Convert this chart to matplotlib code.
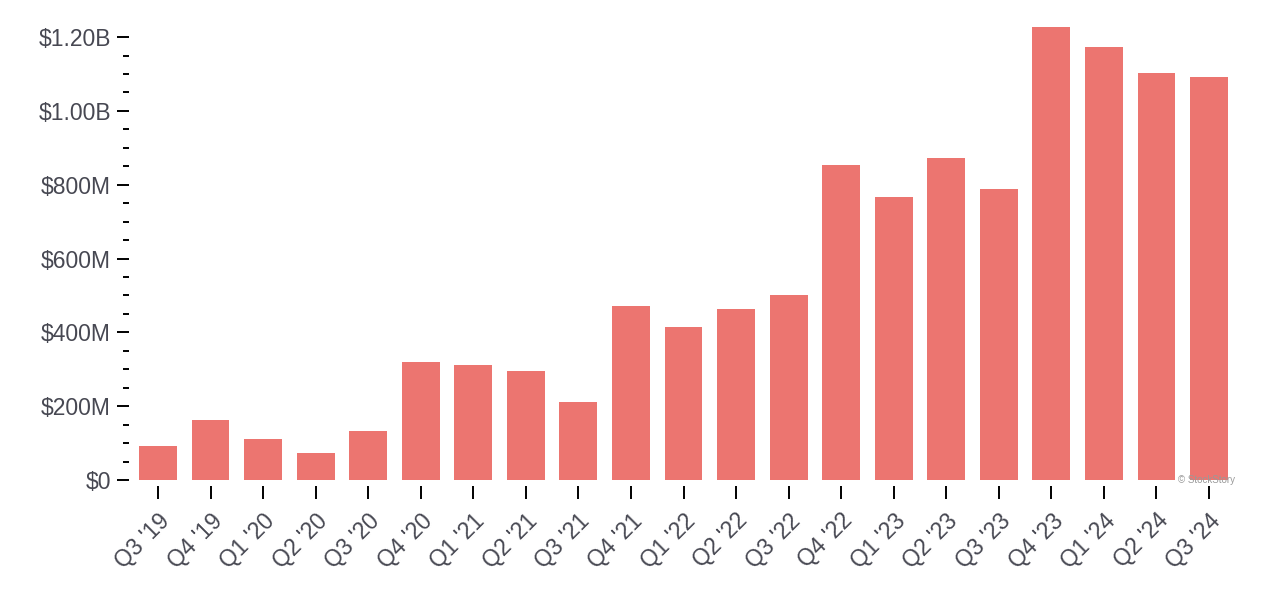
import matplotlib
matplotlib.use('Agg')
import matplotlib.pyplot as plt
from matplotlib.ticker import MultipleLocator, FuncFormatter

plt.rcParams['font.family'] = ['Liberation Sans', 'DejaVu Sans']

quarters = ["Q3 '19", "Q4 '19", "Q1 '20", "Q2 '20", "Q3 '20", "Q4 '20",
            "Q1 '21", "Q2 '21", "Q3 '21", "Q4 '21", "Q1 '22", "Q2 '22",
            "Q3 '22", "Q4 '22", "Q1 '23", "Q2 '23", "Q3 '23", "Q4 '23",
            "Q1 '24", "Q2 '24", "Q3 '24"]
# revenue in millions of USD
revenue = [92, 163, 111, 73, 133, 320, 312, 295, 211, 471, 414, 463,
           501, 853, 767, 872, 788, 1227, 1173, 1103, 1092]

text_color = '#474852'
bar_color = '#ec7570'

fig = plt.figure(figsize=(12.8, 6.14), dpi=100)
ax = fig.add_axes([0.1029, 0.2182, 0.8622, 0.7454])

x = range(len(quarters))
ax.bar(x, [v * 1e6 for v in revenue], width=0.72, color=bar_color)

ax.set_xlim(-0.5, len(quarters) - 0.5)
ax.set_ylim(0, 1.24e9)

for s in ax.spines.values():
    s.set_visible(False)
ax.spines['bottom'].set_position(('outward', 4))
ax.spines['left'].set_position(('outward', 2))

def fmt(v, pos):
    if v >= 1e9:
        return f'${v / 1e9:.2f}B'
    if v == 0:
        return '$0'
    return f'${v / 1e6:.0f}M'

ax.yaxis.set_major_locator(MultipleLocator(200e6))
ax.yaxis.set_minor_locator(MultipleLocator(50e6))
ax.yaxis.set_major_formatter(FuncFormatter(fmt))
ax.tick_params(axis='y', which='major', length=9, width=1.4, color='black',
               labelsize=16.5, labelcolor=text_color, pad=4)
ax.tick_params(axis='y', which='minor', length=4.5, width=1.4, color='black')

ax.set_xticks(list(x))
ax.set_xticklabels(quarters, rotation=45, ha='right', rotation_mode='anchor')
ax.tick_params(axis='x', length=9, width=1.4, color='black',
               labelsize=16.5, labelcolor=text_color, pad=8)

ax.text(1.0, 0.0, '© StockStory', transform=ax.transAxes, ha='right', va='center',
        fontsize=7, color='#999999')

plt.savefig('out.png', dpi=100)
